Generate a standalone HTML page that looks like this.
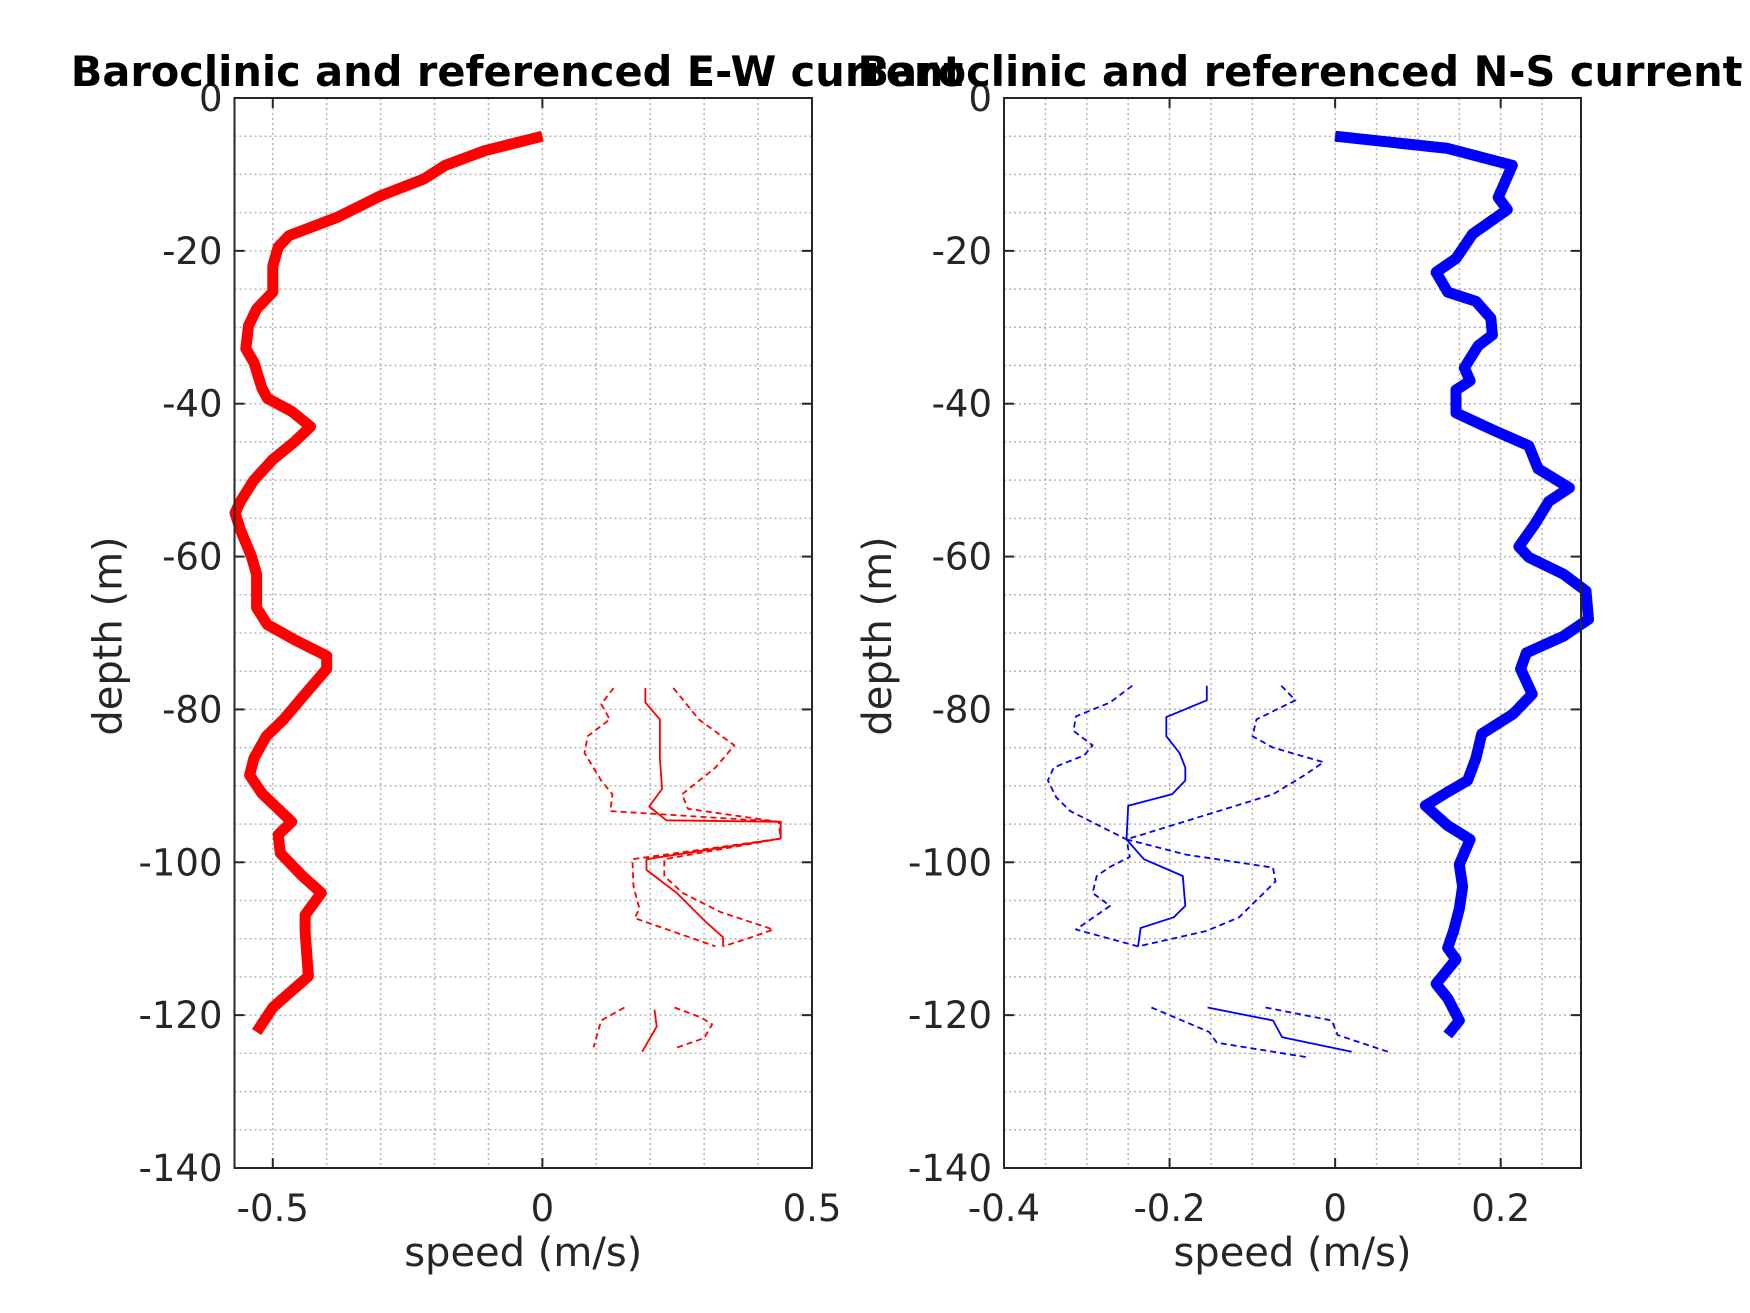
<!DOCTYPE html>
<html><head><meta charset="utf-8">
<style>
html,body{margin:0;padding:0;background:#fff;}
svg{display:block;font-family:"DejaVu Sans","Liberation Sans",sans-serif;}
</style></head>
<body>
<svg id="fig" width="1750" height="1313" viewBox="0 0 1750 1313"></svg>
<script>
// ---- data (speed m/s, depth m) ----
const ewBaroSpeed=[0,-0.107,-0.18,-0.22,-0.30,-0.38,-0.47,-0.49,-0.50,-0.50,-0.53,-0.545,-0.55,-0.535,-0.52,-0.51,-0.465,-0.43,-0.46,-0.50,-0.535,-0.56,-0.57,-0.56,-0.54,-0.53,-0.53,-0.51,-0.457,-0.40,-0.40,-0.445,-0.48,-0.512,-0.535,-0.543,-0.52,-0.465,-0.49,-0.486,-0.445,-0.41,-0.44,-0.44,-0.434,-0.50,-0.53];
const ewBaroDepth=[-5,-6.9,-8.8,-10.6,-12.8,-15.6,-18,-19.5,-22,-25.4,-27.6,-29.8,-32.8,-34.6,-38,-39.3,-41,-43,-45,-47.3,-50,-52.8,-54.3,-56.5,-59.9,-62.3,-66.7,-68.9,-71,-73,-74.7,-78.4,-81.3,-83.5,-86.4,-88.6,-91,-94.7,-96.4,-98.8,-101.8,-104,-106.9,-109,-114.9,-119,-122.2];
const nsBaroSpeed=[0,0.136,0.214,0.197,0.208,0.166,0.146,0.122,0.136,0.17,0.188,0.19,0.173,0.156,0.163,0.146,0.146,0.19,0.234,0.245,0.283,0.258,0.241,0.222,0.234,0.276,0.303,0.306,0.276,0.231,0.224,0.238,0.215,0.177,0.170,0.160,0.136,0.109,0.136,0.163,0.150,0.154,0.150,0.143,0.136,0.146,0.122,0.136,0.150,0.136];
const nsBaroDepth=[-5,-6.6,-8.8,-13,-14.6,-17.8,-21,-22.8,-25.4,-26.6,-28.8,-31,-32.4,-35.3,-37,-38.2,-41.2,-43.4,-45.5,-48.5,-51,-52.8,-55.8,-58.7,-60.1,-62.3,-64.5,-68.2,-70.4,-72.6,-74.7,-78,-80.6,-83.2,-86.4,-89.3,-90.8,-92.6,-95.2,-97,-100.3,-103.2,-106.1,-109,-111.2,-112.7,-115.9,-117.8,-120.7,-122.6];

// referenced (thin) series; null = gap
const ewRefSpeed=[0.191,0.191,0.218,0.218,0.222,0.198,0.23,0.442,0.442,0.193,0.193,0.249,0.300,0.335,0.335,null,0.208,0.212,0.185];
const ewRefDepth=[-77.2,-79.1,-81.3,-86.4,-90.4,-92.7,-94.5,-94.7,-96.9,-99.6,-101,-104,-107.6,-109.8,-111,null,-119.3,-121.5,-124.8];
const ewHiSpeed=[0.243,0.29,0.356,0.321,0.259,0.27,0.438,0.442,0.226,0.226,0.26,0.33,0.428,0.38,0.335,null,0.245,0.294,0.315,0.30,0.243];
const ewHiDepth=[-77.2,-81.3,-84.7,-87.6,-91.1,-93,-94.7,-96.9,-99.6,-101.8,-104,-106.5,-108.8,-110,-111,null,-119,-120.3,-121.2,-123,-124.4];
const ewLoSpeed=[0.132,0.109,0.125,0.084,0.078,0.109,0.13,0.126,0.442,0.442,0.167,0.169,0.18,0.171,0.321,null,0.152,0.109,0.095];
const ewLoDepth=[-77.2,-79.3,-81.3,-83.5,-85.7,-89.3,-91.1,-93.3,-94.7,-96.9,-99.6,-103.2,-106.1,-107.3,-111,null,-119,-120.7,-124.2];

const nsRefSpeed=[-0.155,-0.155,-0.204,-0.204,-0.188,-0.181,-0.181,-0.197,-0.25,-0.252,-0.231,-0.184,-0.181,-0.195,-0.235,-0.238,null,-0.154,-0.075,-0.064,0.02];
const nsRefDepth=[-76.9,-78.8,-81,-83.5,-85.7,-87.6,-89.3,-91.1,-92.6,-97,-99.6,-101.8,-105.7,-107.2,-108.6,-111,null,-119,-120.7,-122.9,-124.8];
const nsLoSpeed=[-0.245,-0.272,-0.313,-0.316,-0.293,-0.303,-0.34,-0.347,-0.337,-0.32,-0.252,-0.248,-0.272,-0.288,-0.293,-0.272,-0.313,-0.238,null,-0.222,-0.152,-0.143,-0.034];
const nsLoDepth=[-76.9,-79.1,-80.9,-82.8,-84.7,-86,-87.6,-89.3,-91.5,-93.3,-97,-99.3,-100.6,-101.8,-104,-105.7,-108.8,-111,null,-119,-122.2,-123.6,-125.5];
const nsHiSpeed=[-0.065,-0.048,-0.095,-0.1,-0.075,-0.014,-0.037,-0.075,-0.252,-0.18,-0.075,-0.072,-0.116,-0.156,-0.238,null,-0.084,-0.004,0.003,0.064];
const nsHiDepth=[-76.9,-78.8,-81.3,-83.5,-85,-86.9,-88.6,-91.1,-97,-99,-100.7,-102.5,-107.2,-109,-111,null,-119,-120.7,-122.6,-124.8];

const ewTicks=[-0.5,0,0.5], ewTickLabels=["-0.5","0","0.5"];
const nsTicks=[-0.4,-0.2,0,0.2], nsTickLabels=["-0.4","-0.2","0","0.2"];
const depthTicks=[0,-20,-40,-60,-80,-100,-120,-140];
const depthTickLabels=["0","-20","-40","-60","-80","-100","-120","-140"];

const NS="http://www.w3.org/2000/svg";
const svg=document.getElementById('fig');
function mk(tag,attrs,parent){const e=document.createElementNS(NS,tag);for(const k in attrs)e.setAttribute(k,attrs[k]);(parent||svg).appendChild(e);return e;}

function drawAxes(opt){
  const g=mk('g',{});
  
  
  const L=opt.left,R=opt.right,T=98,B=1168;
  const xs=v=>L+(v-opt.xmin)/(opt.xmax-opt.xmin)*(R-L);
  const ys=d=>T+(0-d)/140*(B-T);
  for(let v=Math.ceil(opt.xmin/opt.minor)*opt.minor;v<=opt.xmax+1e-9;v+=opt.minor){
    const x=xs(v); if(x<=L+1||x>=R-1) continue;
    const l=mk('line',{x1:x,x2:x,y1:T,y2:B,stroke:'#b5b5b5','stroke-width':1.5,'stroke-dasharray':'2,3'},g);
    
    
  }
  for(let d=-5;d>-140;d-=5){
    const y=ys(d);
    const l=mk('line',{x1:L,x2:R,y1:y,y2:y,stroke:'#b5b5b5','stroke-width':1.5,'stroke-dasharray':'2,3'},g);
    
    
  }
  function series(sp,dp,color,w,dash,name){
    let dstr='',pen=false;
    for(let i=0;i<sp.length;i++){
      if(sp[i]===null){pen=false;continue;}
      dstr+=(pen?'L':'M')+xs(sp[i]).toFixed(1)+' '+ys(dp[i]).toFixed(1)+' ';pen=true;
    }
    const p=mk('path',{d:dstr,fill:'none',stroke:color,'stroke-width':w,'stroke-linejoin':'round'},g);
    if(dash)p.setAttribute('stroke-dasharray',dash);
    
    
  }
  series(opt.lo[0],opt.lo[1],opt.color,1.8,'6,4',opt.prefix+'-lower-bound');
  series(opt.hi[0],opt.hi[1],opt.color,1.8,'6,4',opt.prefix+'-upper-bound');
  series(opt.ref[0],opt.ref[1],opt.color,1.8,null,opt.prefix+'-referenced-line');
  series(opt.baro[0],opt.baro[1],opt.color,11,null,opt.prefix+'-baroclinic-line');
  const box=mk('rect',{x:L,y:T,width:R-L,height:B-T,fill:'none',stroke:'#262626','stroke-width':2},g);
  
  
  opt.xt.forEach((v,i)=>{
    const x=xs(v);
    mk('line',{x1:x,x2:x,y1:B,y2:B-10,stroke:'#262626','stroke-width':2},g);
    mk('line',{x1:x,x2:x,y1:T,y2:T+10,stroke:'#262626','stroke-width':2},g);
    const t=mk('text',{x:x,y:1221,'text-anchor':'middle','font-size':37,fill:'#262626'},g);
    t.textContent=opt.xl[i];
    
    
  });
  depthTicks.forEach((d,i)=>{
    const y=ys(d);
    mk('line',{x1:L,x2:L+10,y1:y,y2:y,stroke:'#262626','stroke-width':2},g);
    mk('line',{x1:R,x2:R-10,y1:y,y2:y,stroke:'#262626','stroke-width':2},g);
    const t=mk('text',{x:L-12,y:y+13,'text-anchor':'end','font-size':37,fill:'#262626'},g);
    t.textContent=depthTickLabels[i];
    
    
  });
  const xl=mk('text',{x:(L+R)/2,y:1266,'text-anchor':'middle','font-size':40,fill:'#262626'},g);
  xl.textContent='speed (m/s)';
  
  
  const yx=L-113;
  const yl=mk('text',{x:yx,y:636,'text-anchor':'middle','font-size':40,fill:'#262626',transform:'rotate(-90 '+yx+' 636)'},g);
  yl.textContent='depth (m)';
  
  
  const tt=mk('text',{x:opt.titleX,y:86,'text-anchor':'middle','font-size':41.5,'font-weight':'bold',fill:'#000'},g);
  tt.textContent=opt.title;
  
  
}

drawAxes({name:'ew-current-panel',prefix:'ew',left:234.5,right:812,xmin:-0.571,xmax:0.5,minor:0.1,
  xt:ewTicks,xl:ewTickLabels,color:'#ff0000',
  baro:[ewBaroSpeed,ewBaroDepth],ref:[ewRefSpeed,ewRefDepth],hi:[ewHiSpeed,ewHiDepth],lo:[ewLoSpeed,ewLoDepth],
  title:'Baroclinic and referenced E-W current',titleX:517});
drawAxes({name:'ns-current-panel',prefix:'ns',left:1004,right:1581,xmin:-0.4,xmax:0.297,minor:0.05,
  xt:nsTicks,xl:nsTickLabels,color:'#0000ff',
  baro:[nsBaroSpeed,nsBaroDepth],ref:[nsRefSpeed,nsRefDepth],hi:[nsHiSpeed,nsHiDepth],lo:[nsLoSpeed,nsLoDepth],
  title:'Baroclinic and referenced N-S current',titleX:1300});
</script>
</body></html>
